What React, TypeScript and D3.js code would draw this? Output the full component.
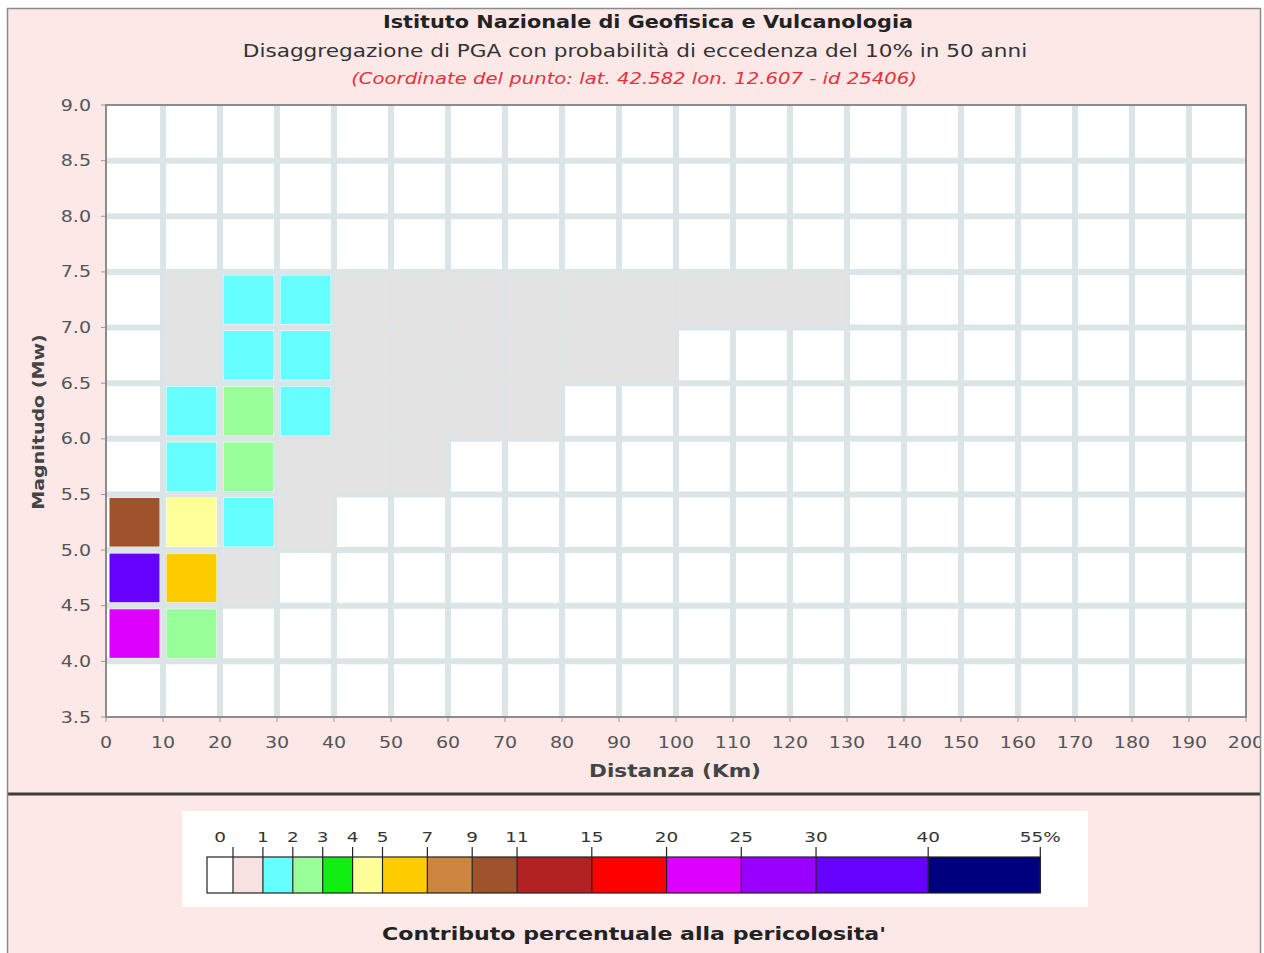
import React from 'react'
import * as d3 from 'd3'

// assi
const distanceTicks = [0, 10, 20, 30, 40, 50, 60, 70, 80, 90, 100, 110, 120, 130, 140, 150, 160, 170, 180, 190, 200]
const magnitudeTicks = [3.5, 4.0, 4.5, 5.0, 5.5, 6.0, 6.5, 7.0, 7.5, 8.0, 8.5, 9.0]

// celle: [distanza inizio bin, magnitudo inizio bin, contributo %]
const cells: [number, number, number][] = [
    [0, 4.0, 22], [0, 4.5, 33], [0, 5.0, 10],
    [10, 4.0, 2.5], [10, 4.5, 6], [10, 5.0, 4.5], [10, 5.5, 1.5], [10, 6.0, 1.5], [10, 6.5, 0.5], [10, 7.0, 0.4],
    [20, 4.5, 0.6], [20, 5.0, 1.6], [20, 5.5, 2.3], [20, 6.0, 2.2], [20, 6.5, 1.7], [20, 7.0, 1.3],
    [30, 5.0, 0.3], [30, 5.5, 0.6], [30, 6.0, 1.2], [30, 6.5, 1.4], [30, 7.0, 1.1],
    [40, 5.5, 0.3], [40, 6.0, 0.7], [40, 6.5, 0.9], [40, 7.0, 0.8],
    [50, 5.5, 0.2], [50, 6.0, 0.5], [50, 6.5, 0.7], [50, 7.0, 0.7],
    [60, 6.0, 0.3], [60, 6.5, 0.5], [60, 7.0, 0.6],
    [70, 6.0, 0.2], [70, 6.5, 0.4], [70, 7.0, 0.5],
    [80, 6.5, 0.3], [80, 7.0, 0.4],
    [90, 6.5, 0.2], [90, 7.0, 0.3],
    [100, 7.0, 0.2],
    [110, 7.0, 0.15],
    [120, 7.0, 0.1],
]

// legenda
const legendBreaks = [0, 1, 2, 3, 4, 5, 7, 9, 11, 15, 20, 25, 30, 40, 55]
const legendLabels = ['0', '1', '2', '3', '4', '5', '7', '9', '11', '15', '20', '25', '30', '40', '55%']
const legendColors = ['#ffffff', '#e4e2e2', '#66ffff', '#99ff99', '#11ee11', '#ffff99', '#ffcc00', '#cd853f',
    '#a0522d', '#b22222', '#ff0000', '#dd00ff', '#9900ff', '#6600ff', '#00007f']
const legendWeights = [2, 2, 2, 2, 2, 3, 3, 3, 5, 5, 5, 5, 7.5, 7.5]

const W = 1264
const H = 953
const plot = { left: 106, right: 1246, top: 105, bottom: 717 }
const font = 'DejaVu Sans, sans-serif'
const SX = 1.27 // l'immagine originale e' stirata in orizzontale

// testo stirato in orizzontale
const T = (props: any) => {
    const { x, y, rotate, sx = SX, children, ...rest } = props
    const tr = `translate(${x},${y})` + (rotate ? ` rotate(${rotate})` : '') + ` scale(${sx},1)`
    return <text transform={tr} {...rest}>{children}</text>
}

const App = () => {
    const x = d3.scaleLinear().domain([0, 200]).range([plot.left, plot.right])
    const y = d3.scaleLinear().domain([3.5, 9]).range([plot.bottom, plot.top])

    const color = d3.scaleThreshold<number, string>()
        .domain(legendBreaks.slice(1))
        .range(legendColors.slice(1))
    const cellColor = (v: number) => (v <= 0 ? legendColors[0] : v < 1 ? '#e4e3e3' : color(v))

    // scala legenda a tratti
    const unit = 14.95
    const legendStart = 233
    const cum = [legendStart]
    legendWeights.forEach((w, i) => cum.push(cum[i] + w * unit))
    const lx = d3.scaleLinear().domain(legendBreaks).range(cum)
    const barTop = 857
    const barBottom = 893
    const barLeft = 207

    const interior = (t: number[]) => t.slice(1, -1)

    return (
        <svg width={W} height={H} style={{ position: 'absolute', left: 0, top: 0 }} fontFamily={font}>
            <defs>
                <clipPath id="panel">
                    <rect x={7} y={8} width={1253} height={960} />
                </clipPath>
            </defs>
            <rect x={7.5} y={8.5} width={1253} height={960} fill="#fde8e8" />
            <g clipPath="url(#panel)">
            <line x1={7} x2={1261} y1={794} y2={794} stroke="#3c3c3c" strokeWidth={3} />

            {/* titoli */}
            <T x={648} y={28} sx={1.155} textAnchor="middle" fontSize={18} fontWeight="bold" fill="#222">
                Istituto Nazionale di Geofisica e Vulcanologia
            </T>
            <T x={635} y={57} textAnchor="middle" fontSize={17} fill="#333">
                Disaggregazione di PGA con probabilità di eccedenza del 10% in 50 anni
            </T>
            <T x={634} y={84} sx={1.31} textAnchor="middle" fontSize={15} fontStyle="italic" fill="#e8303c">
                (Coordinate del punto: lat. 42.582 lon. 12.607 - id 25406)
            </T>

            {/* area grafico */}
            <rect x={plot.left} y={plot.top} width={plot.right - plot.left} height={plot.bottom - plot.top} fill="#ffffff" />
            <g stroke="#dbe4e6" strokeWidth={6}>
                {interior(distanceTicks).map(d => (
                    <line key={'v' + d} x1={x(d)} x2={x(d)} y1={plot.top} y2={plot.bottom} />
                ))}
                {interior(magnitudeTicks).map(m => (
                    <line key={'h' + m} x1={plot.left} x2={plot.right} y1={y(m)} y2={y(m)} />
                ))}
            </g>
            <g>
                {cells.map(([d, m, v]) => {
                    const inset = v < 1 ? 1 : 3.5
                    const x0 = x(d) + inset
                    const x1 = x(d + 10) - inset
                    const y0 = y(m + 0.5) + inset
                    const y1 = y(m) - inset
                    return <rect key={d + '-' + m} x={x0} y={y0} width={x1 - x0} height={y1 - y0} fill={cellColor(v)} />
                })}
            </g>
            <rect x={plot.left} y={plot.top} width={plot.right - plot.left} height={plot.bottom - plot.top}
                fill="none" stroke="#8c8c8c" strokeWidth={2} />

            {/* asse y */}
            <g fontSize={15} fill="#555">
                {magnitudeTicks.map(m => (
                    <g key={m}>
                        <line x1={plot.left - 5} x2={plot.left - 1} y1={y(m)} y2={y(m)} stroke="#999" />
                        <T x={91} y={y(m) + 5.5} textAnchor="end">{m.toFixed(1)}</T>
                    </g>
                ))}
            </g>
            <T x={44} y={422} rotate={-90} textAnchor="middle" fontSize={15} fontWeight="bold" fill="#444">
                Magnitudo (Mw)
            </T>

            {/* asse x */}
            <g fontSize={15} fill="#555">
                {distanceTicks.map(d => (
                    <g key={d}>
                        <line x1={x(d)} x2={x(d)} y1={plot.bottom + 1} y2={plot.bottom + 5} stroke="#999" />
                        <T x={x(d)} y={748} textAnchor="middle">{d}</T>
                    </g>
                ))}
            </g>
            <T x={675} y={777} textAnchor="middle" fontSize={17} fontWeight="bold" fill="#444">
                Distanza (Km)
            </T>

            {/* legenda */}
            <rect x={182} y={811} width={906} height={96} fill="#ffffff" />
            <rect x={barLeft} y={barTop} width={legendStart - barLeft} height={barBottom - barTop} fill={legendColors[0]} />
            {legendBreaks.slice(0, -1).map((b, i) => (
                <rect key={b} x={lx(b)} y={barTop} width={lx(legendBreaks[i + 1]) - lx(b)} height={barBottom - barTop}
                    fill={i === 0 ? '#f7e1e1' : legendColors[i + 1]} />
            ))}
            <rect x={barLeft} y={barTop} width={lx(55) - barLeft} height={barBottom - barTop} fill="none" stroke="#222" strokeWidth={1.2} />
            <g stroke="#222" strokeWidth={1.2}>
                {legendBreaks.map(b => (
                    <line key={b} x1={lx(b)} x2={lx(b)} y1={847} y2={barBottom} />
                ))}
            </g>
            <g fontSize={14.5} fill="#333" textAnchor="middle">
                {legendBreaks.map((b, i) => (
                    <T key={b} x={i === 0 ? (barLeft + legendStart) / 2 : lx(b)} y={842}>{legendLabels[i]}</T>
                ))}
            </g>
            <T x={634} y={940} sx={1.3} textAnchor="middle" fontSize={17} fontWeight="bold" fill="#222">
                Contributo percentuale alla pericolosita'
            </T>
            </g>
            <rect x={7.5} y={8.5} width={1253} height={960} fill="none" stroke="#8a8a8a" strokeWidth={1.5} />
        </svg>
    )
}

export default App
